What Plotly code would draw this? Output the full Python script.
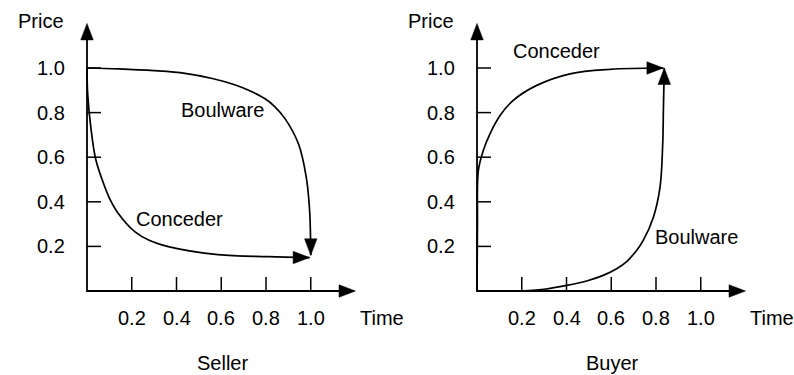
import plotly.graph_objects as go

# ---------------- data ----------------
TICK_VALUES = [0.2, 0.4, 0.6, 0.8, 1.0]
TICK_LABELS = ["0.2", "0.4", "0.6", "0.8", "1.0"]
AXIS_END = 1.2  # where the axis arrows point to (both axes)

# Seller panel
seller_boulware_t = [0.0, 0.14, 0.30, 0.438, 0.56, 0.66, 0.73, 0.796, 0.84, 0.885, 0.945, 0.98, 0.995, 1.0]
seller_boulware_p = [1.0, 0.996, 0.988, 0.976, 0.953, 0.925, 0.897, 0.862, 0.826, 0.773, 0.66, 0.51, 0.36, 0.16]
seller_conceder_t = [0.0, 0.003, 0.017, 0.04, 0.08, 0.10, 0.14, 0.215, 0.28, 0.363, 0.585, 0.81, 0.995]
seller_conceder_p = [1.0, 0.885, 0.735, 0.586, 0.466, 0.417, 0.348, 0.265, 0.226, 0.199, 0.163, 0.154, 0.15]

# Buyer panel
buyer_conceder_t = [0.0, 0.002, 0.006, 0.028, 0.058, 0.103, 0.162, 0.267, 0.416, 0.594, 0.833]
buyer_conceder_p = [0.0, 0.30, 0.54, 0.63, 0.705, 0.787, 0.855, 0.922, 0.974, 0.994, 1.0]
buyer_boulware_t = [0.0, 0.193, 0.30, 0.401, 0.49, 0.564, 0.624, 0.669, 0.714, 0.743, 0.788, 0.818, 0.83, 0.833, 0.837]
buyer_boulware_p = [0.0, 0.0, 0.008, 0.025, 0.045, 0.07, 0.10, 0.132, 0.183, 0.227, 0.33, 0.466, 0.66, 0.81, 1.0]

# ---------------- layout geometry ----------------
W, H = 794, 375
PX_X = 223.75   # pixels per unit of time
PX_Y = 223.0    # pixels per unit of price
Y0PX = 291      # pixel row of price = 0
FONT = dict(family="Liberation Sans, Arial, Helvetica, sans-serif", size=20, color="black")
ARROW_LEN, ARROW_W = 16.5, 12.5
TICK_LEN = 14

panels = [
    dict(title="Seller", xa="x", ya="y", x0px=87, dom=[0.0, 0.5], px_from=0, px_to=397,
         curves=[(seller_boulware_t, seller_boulware_p, "down"),
                 (seller_conceder_t, seller_conceder_p, "right")],
         labels=[("Boulware", 0.604, 0.812), ("Conceder", 0.414, 0.323)]),
    dict(title="Buyer", xa="x2", ya="y2", x0px=477, dom=[0.5, 1.0], px_from=397, px_to=794,
         curves=[(buyer_conceder_t, buyer_conceder_p, "right"),
                 (buyer_boulware_t, buyer_boulware_p, "up")],
         labels=[("Conceder", 0.354, 1.077), ("Boulware", 0.981, 0.24)]),
]


def arrowhead(tip_t, tip_p, direction):
    dx, dy = {"up": (0, 1), "down": (0, -1), "right": (1, 0)}[direction]
    bx = tip_t - dx * ARROW_LEN / PX_X
    by = tip_p - dy * ARROW_LEN / PX_Y
    qx, qy = -dy, dx
    h = ARROW_W / 2
    xs = [tip_t, bx + qx * h / PX_X, bx - qx * h / PX_X, tip_t]
    ys = [tip_p, by + qy * h / PX_Y, by - qy * h / PX_Y, tip_p]
    return xs, ys


fig = go.Figure()
annotations = []

for pn in panels:
    xa, ya = pn["xa"], pn["ya"]
    common = dict(xaxis=xa, yaxis=ya, hoverinfo="skip", showlegend=False)

    # axes lines
    fig.add_trace(go.Scatter(
        x=[0, 0, AXIS_END - ARROW_LEN / PX_X],
        y=[AXIS_END - ARROW_LEN / PX_Y, 0, 0],
        mode="lines", line=dict(color="black", width=1.8), **common))
    for d, tip in (("up", (0, AXIS_END)), ("right", (AXIS_END, 0))):
        xs, ys = arrowhead(tip[0], tip[1], d)
        fig.add_trace(go.Scatter(x=xs, y=ys, mode="lines", fill="toself",
                                 fillcolor="black", line=dict(color="black", width=0.5), **common))

    # tick marks
    tx, ty = [], []
    for v in TICK_VALUES:
        tx += [v, v, None]
        ty += [0, TICK_LEN / PX_Y, None]
        tx += [0, TICK_LEN / PX_X, None]
        ty += [v, v, None]
    fig.add_trace(go.Scatter(x=tx, y=ty, mode="lines",
                             line=dict(color="black", width=1.5), **common))

    # curves + arrowheads
    for t, p, d in pn["curves"]:
        fig.add_trace(go.Scatter(x=t, y=p, mode="lines",
                                 line=dict(color="black", width=1.7, shape="spline", smoothing=1.0),
                                 **common))
        xs, ys = arrowhead(t[-1], p[-1], d)
        fig.add_trace(go.Scatter(x=xs, y=ys, mode="lines", fill="toself",
                                 fillcolor="black", line=dict(color="black", width=0.5), **common))

    # tick labels
    for v, lab in zip(TICK_VALUES, TICK_LABELS):
        annotations.append(dict(x=v, y=0, xref=xa, yref=ya, text=lab, showarrow=False,
                                xanchor="center", yanchor="middle", yshift=-27, font=FONT))
        annotations.append(dict(x=0, y=v, xref=xa, yref=ya, text=lab, showarrow=False,
                                xanchor="right", yanchor="middle", xshift=-20, font=FONT))
    # axis titles
    annotations.append(dict(x=0, y=AXIS_END, xref=xa, yref=ya, text="Price", showarrow=False,
                            xanchor="right", yanchor="middle", xshift=-21, yshift=2, font=FONT))
    annotations.append(dict(x=AXIS_END, y=0, xref=xa, yref=ya, text="Time", showarrow=False,
                            xanchor="left", yanchor="middle", xshift=2, yshift=-27, font=FONT))
    # panel title
    annotations.append(dict(x=0.605, y=0, xref=xa, yref=ya, text=pn["title"], showarrow=False,
                            xanchor="center", yanchor="middle", yshift=-72, font=FONT))
    # curve labels
    for txt, lx, ly in pn["labels"]:
        annotations.append(dict(x=lx, y=ly, xref=xa, yref=ya, text=txt, showarrow=False,
                                xanchor="center", yanchor="middle", font=FONT))

layout_axes = {}
for i, pn in enumerate(panels):
    sfx = "" if i == 0 else "2"
    x0 = pn["x0px"]
    layout_axes["xaxis" + sfx] = dict(
        domain=pn["dom"], range=[(pn["px_from"] - x0) / PX_X, (pn["px_to"] - x0) / PX_X],
        visible=False, fixedrange=True, anchor="y" + sfx)
    layout_axes["yaxis" + sfx] = dict(
        domain=[0, 1], range=[(Y0PX - H) / PX_Y, Y0PX / PX_Y],
        visible=False, fixedrange=True, anchor="x" + sfx)

fig.update_layout(
    width=W, height=H, autosize=False,
    margin=dict(l=0, r=0, t=0, b=0),
    paper_bgcolor="white", plot_bgcolor="white",
    annotations=annotations,
    **layout_axes,
)

fig.write_html("out.html", config={"displayModeBar": False},
               post_script="document.body.style.margin='0';document.body.style.overflow='hidden';")
